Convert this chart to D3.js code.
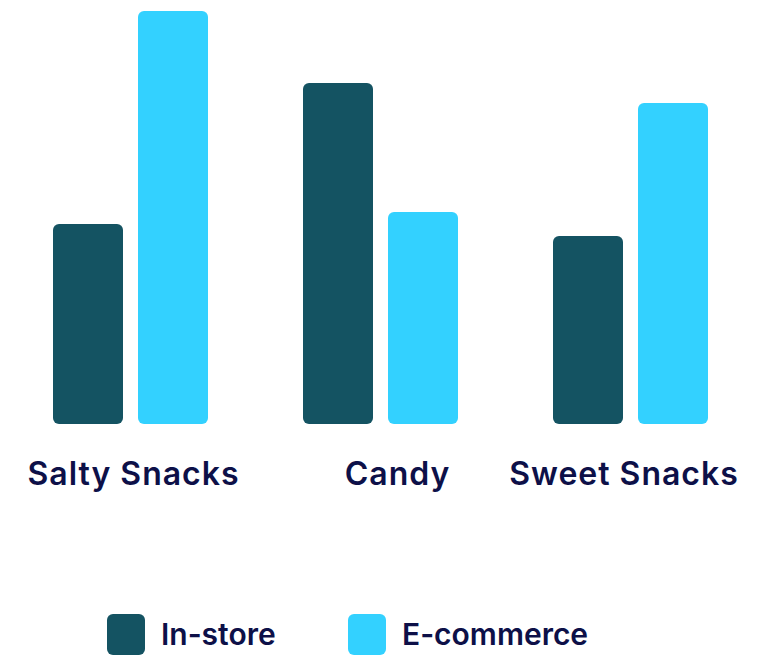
<!DOCTYPE html>
<html>
<head>
<meta charset="utf-8">
<script src="https://cdn.jsdelivr.net/npm/d3@7"></script>
<style>
  html, body { margin: 0; padding: 0; background: #ffffff; }
  svg { display: block; }
  text { font-family: Inter, "Noto Sans", sans-serif; font-weight: 600; fill: #0d1048; }
</style>
</head>
<body>
<svg id="chart" width="761" height="657"></svg>
<script>
const categories = ["Salty Snacks", "Candy", "Sweet Snacks"];
const seriesNames = ["In-store", "E-commerce"];
const inStore = [200, 341, 188];
const eCommerce = [413, 212, 321];
const seriesColors = ["#145362", "#33d1ff"];

const svg = d3.select("#chart");
const baseline = 424;

const x0 = d3.scaleBand().domain(categories).range([53, 708]).paddingInner(0.38).paddingOuter(0);
const x1 = d3.scaleBand().domain(seriesNames).range([0, x0.bandwidth()]).paddingInner(15 / 85).paddingOuter(0);
const y = d3.scaleLinear().domain([0, 413]).range([baseline, 11]);
const color = d3.scaleOrdinal().domain(seriesNames).range(seriesColors);

const data = categories.map((c, i) => ({
  category: c,
  values: [
    { series: "In-store", value: inStore[i] },
    { series: "E-commerce", value: eCommerce[i] }
  ]
}));

const groups = svg.selectAll("g.group").data(data).join("g")
  .attr("class", "group")
  .attr("transform", d => `translate(${x0(d.category)},0)`);

groups.selectAll("rect").data(d => d.values).join("rect")
  .attr("x", d => x1(d.series))
  .attr("y", d => y(d.value))
  .attr("width", x1.bandwidth())
  .attr("height", d => y(0) - y(d.value))
  .attr("rx", 6).attr("ry", 6)
  .attr("fill", d => color(d.series));

// category labels (slight nudges to match the reference layout)
const labelNudge = [3, 17, -6.5];
svg.selectAll("text.cat").data(categories).join("text")
  .attr("class", "cat")
  .attr("x", (d, i) => x0(d) + x0.bandwidth() / 2 + labelNudge[i])
  .attr("y", 485)
  .attr("text-anchor", "middle")
  .style("font-size", "32px")
  .style("letter-spacing", "1px")
  .text(d => d);

// legend
const legendX = [107, 348];
const legend = svg.selectAll("g.legend").data(seriesNames).join("g")
  .attr("class", "legend")
  .attr("transform", (d, i) => `translate(${legendX[i]},614)`);
legend.append("rect")
  .attr("width", 38).attr("height", 41)
  .attr("rx", 6).attr("ry", 6)
  .attr("fill", d => color(d));
legend.append("text")
  .attr("x", 54).attr("y", 31)
  .style("font-size", "30px")
  .text(d => d);
</script>
</body>
</html>
